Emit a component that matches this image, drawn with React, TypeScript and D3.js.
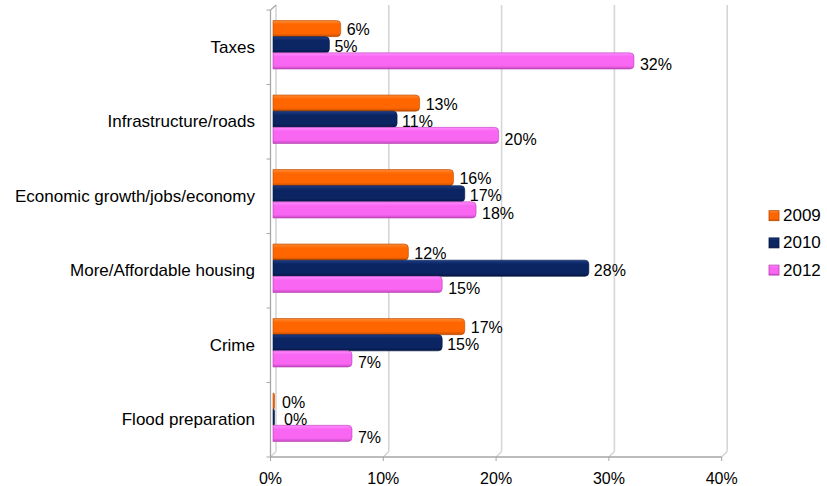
import React from "react";
import * as d3 from "d3";

const categories = [
  "Taxes",
  "Infrastructure/roads",
  "Economic growth/jobs/economy",
  "More/Affordable housing",
  "Crime",
  "Flood preparation",
];
const seriesNames = ["2009", "2010", "2012"];
const values2009 = [6, 13, 16, 12, 17, 0];
const values2010 = [5, 11, 17, 28, 15, 0];
const values2012 = [32, 20, 18, 15, 7, 7];
const xTicks = [0, 10, 20, 30, 40];

const seriesValues = [values2009, values2010, values2012];
const colors = [
  { top: "#ff8a33", mid: "#ff6600", bot: "#c44f00", stroke: "#b84a00" },
  { top: "#1d3d85", mid: "#0b2563", bot: "#041540", stroke: "#041540" },
  { top: "#ff8cff", mid: "#f866f2", bot: "#c447c0", stroke: "#b740b3" },
];

const W = 827;
const H = 486;
const X0 = 270.5;
const X1 = 721.7;
const Y0 = 10;
const Y1 = 457;
const DX = 5.5;
const DY = 5.5;
const BAR_DX = 2.5;

function rightRounded(x: number, y: number, w: number, h: number, r: number) {
  const rr = Math.min(r, w, h / 2);
  return `M${x},${y}H${x + w - rr}Q${x + w},${y} ${x + w},${y + rr}V${y + h - rr}Q${x + w},${y + h} ${x + w - rr},${y + h}H${x}Z`;
}

export default function App() {
  const x = d3.scaleLinear().domain([0, 40]).range([X0, X1]);
  const yBand = d3.scaleBand<string>().domain(categories).range([Y0, Y1]).paddingInner(0).paddingOuter(0);
  const inner = d3.scaleBand<string>().domain(seriesNames).range([10.5, 59]);
  const labelDy = [1, 2, 4];
  const labelDx = [6, 5, 6];
  const font = "'Liberation Sans', Arial, sans-serif";

  const boundaries = categories.map((c) => yBand(c) as number).concat([Y1]);

  return (
    <svg width={W} height={H} style={{ position: "absolute", left: 0, top: 0, background: "#fff" }} fontFamily={font}>
      <defs>
        {colors.map((c, i) => (
          <linearGradient key={i} id={`g${i}`} x1="0" y1="0" x2="0" y2="1">
            <stop offset="0" stopColor={c.top} />
            <stop offset="0.25" stopColor={c.mid} />
            <stop offset="0.8" stopColor={c.mid} />
            <stop offset="1" stopColor={c.bot} />
          </linearGradient>
        ))}
      </defs>

      {/* back wall gridlines */}
      {xTicks.map((t) => (
        <g key={`grid${t}`}>
          <line x1={x(t) + DX} x2={x(t) + DX} y1={Y1 - DY} y2={Y0 - 5} stroke="#d6d6d6" strokeWidth={1.6} />
          <line x1={x(t)} y1={Y1} x2={x(t) + DX} y2={Y1 - DY} stroke="#d0d0d0" strokeWidth={1.2} />
        </g>
      ))}

      {/* left axis (front edge) */}
      <line x1={X0} x2={X0} y1={Y0} y2={Y1} stroke="#a6a6a6" strokeWidth={1.3} />
      <line x1={X0} y1={Y0} x2={X0 + DX} y2={Y0 - 5} stroke="#a6a6a6" strokeWidth={1.2} />
      {boundaries.map((b, i) => (
        <line key={`yt${i}`} x1={X0 - 4} x2={X0} y1={b} y2={b} stroke="#a6a6a6" strokeWidth={1} />
      ))}

      {/* bottom axis */}
      <line x1={X0} x2={X1} y1={Y1} y2={Y1} stroke="#a6a6a6" strokeWidth={1.3} />
      {xTicks.map((t) => (
        <line key={`xt${t}`} x1={x(t)} x2={x(t)} y1={Y1} y2={Y1 + 4} stroke="#a6a6a6" strokeWidth={1} />
      ))}
      {xTicks.map((t) => (
        <text key={`xl${t}`} x={x(t)} y={478} textAnchor="middle" dominantBaseline="central" fontSize={16} fill="#000">
          {`${t}%`}
        </text>
      ))}

      {/* category labels */}
      {categories.map((c) => (
        <text
          key={`cl${c}`}
          x={255}
          y={(yBand(c) as number) + yBand.bandwidth() / 2}
          textAnchor="end"
          dominantBaseline="central"
          fontSize={17}
          fill="#000"
        >
          {c}
        </text>
      ))}

      {/* bars */}
      {categories.map((c, ci) => (
        <g key={`bars${c}`}>
          {seriesNames.map((s, si) => {
            const v = seriesValues[si][ci];
            const by = (yBand(c) as number) + (inner(s) as number);
            const bh = inner.bandwidth();
            const bx = x(0) + BAR_DX;
            const bw = Math.max(x(v) - x(0), 1.5);
            return (
              <path
                key={`b${s}`}
                d={rightRounded(bx, by, bw, bh, 4)}
                fill={`url(#g${si})`}
                stroke={colors[si].stroke}
                strokeWidth={0.6}
              />
            );
          })}
        </g>
      ))}

      {/* data labels */}
      {categories.map((c, ci) => (
        <g key={`lbl${c}`}>
          {seriesNames.map((s, si) => {
            const v = seriesValues[si][ci];
            const by = (yBand(c) as number) + (inner(s) as number) + inner.bandwidth() / 2;
            return (
              <text
                key={`t${s}`}
                x={x(v) + BAR_DX + labelDx[si] + (v === 0 ? 3 + si * 3 : 0)}
                y={by + labelDy[si]}
                dominantBaseline="central"
                fontSize={16}
                fill="#000"
              >
                {`${v}%`}
              </text>
            );
          })}
        </g>
      ))}

      {/* legend */}
      {seriesNames.map((s, si) => {
        const ly = 215.7 + si * 27.2;
        return (
          <g key={`lg${s}`}>
            <rect x={769} y={ly - 5} width={10} height={10} fill={`url(#g${si})`} stroke={colors[si].stroke} strokeWidth={0.8} />
            <text x={783} y={ly} dominantBaseline="central" fontSize={17} fill="#000">
              {s}
            </text>
          </g>
        );
      })}
    </svg>
  );
}
